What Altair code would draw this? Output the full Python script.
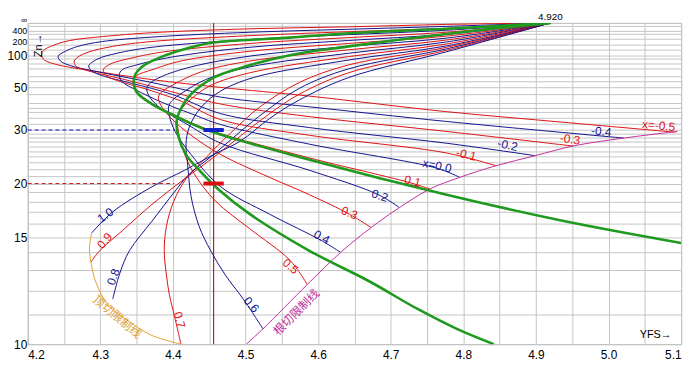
import math
import altair as alt
import pandas as pd

INF = float("inf")

# ---- shift-coefficient curves: (YFS values, zn values) ----
CURVES = {
    "-0.5": ([4.920, 4.777, 4.642, 4.506, 4.371, 4.303, 4.258, 4.235, 4.222, 4.219, 4.223, 4.242, 4.289, 4.371, 4.466, 4.588, 4.777, 4.940, 5.092],
             [INF, 2193, 822, 548, 329, 235, 183, 143, 117.5, 99.7, 86.6, 76.5, 67.1, 56.7, 49.8, 43.9, 36.2, 32.3, 29.4]),
    "-0.4": ([4.920, 4.777, 4.642, 4.506, 4.371, 4.303, 4.269, 4.252, 4.242, 4.245, 4.260, 4.303, 4.371, 4.466, 4.588, 4.777, 5.021],
             [INF, 940, 506, 346, 227, 173, 137, 113.4, 96.8, 84.4, 74.8, 64.5, 53.9, 43.3, 38.3, 32.6, 27.9]),
    "-0.3": ([4.920, 4.777, 4.642, 4.506, 4.371, 4.317, 4.283, 4.269, 4.264, 4.266, 4.283, 4.317, 4.371, 4.466, 4.588, 4.777, 4.951],
             [INF, 598, 366, 253, 173, 137, 109.7, 94, 84.4, 74.8, 67.1, 59.8, 50.6, 39.6, 34.3, 29.6, 26.1]),
    "-0.2": ([4.920, 4.777, 4.642, 4.506, 4.371, 4.323, 4.296, 4.284, 4.288, 4.303, 4.344, 4.398, 4.466, 4.588, 4.777, 4.899],
             [INF, 439, 274, 194, 132, 106, 88.9, 74.8, 67.1, 60.9, 53.1, 45.1, 35.4, 30.7, 26.7, 24.2]),
    "-0.1": ([4.920, 4.777, 4.642, 4.506, 4.384, 4.337, 4.314, 4.304, 4.308, 4.323, 4.364, 4.411, 4.466, 4.588, 4.777, 4.845],
             [INF, 346, 219, 156.7, 109.7, 88.9, 78.3, 68.5, 60.9, 55.8, 48.4, 41.1, 33.2, 28.6, 24.7, 22.5]),
    "0.0": ([4.920, 4.777, 4.642, 4.506, 4.398, 4.350, 4.330, 4.326, 4.330, 4.350, 4.384, 4.425, 4.466, 4.588, 4.764, 4.795],
            [INF, 286, 183, 132, 94, 76.5, 68.5, 62.1, 54.8, 47.7, 40.6, 35.4, 31.6, 26.5, 22.1, 20.8]),
    "0.1": ([4.920, 4.777, 4.642, 4.506, 4.411, 4.371, 4.350, 4.345, 4.348, 4.364, 4.398, 4.452, 4.588, 4.723, 4.754],
            [INF, 244, 156.7, 113.4, 84.4, 68.5, 60.9, 54.8, 48.4, 41.7, 35.4, 29.9, 23.8, 20.2, 19.35]),
    "0.2": ([4.920, 4.777, 4.642, 4.506, 4.425, 4.384, 4.368, 4.364, 4.368, 4.384, 4.418, 4.466, 4.588, 4.683, 4.712],
            [INF, 212, 137, 96.8, 73.1, 59.8, 53.1, 48.4, 43.3, 37.4, 31.9, 26.7, 21.8, 18.7, 17.4]),
    "0.3": ([4.920, 4.777, 4.642, 4.506, 4.439, 4.401, 4.384, 4.380, 4.383, 4.398, 4.425, 4.466, 4.533, 4.588, 4.643, 4.673],
            [INF, 188, 119.6, 84.4, 65.8, 52.2, 46.3, 43.3, 39.2, 33.6, 28.6, 24.4, 20.8, 18.7, 16.8, 15.7]),
    "0.4": ([4.920, 4.777, 4.642, 4.506, 4.445, 4.414, 4.398, 4.394, 4.395, 4.403, 4.425, 4.466, 4.533, 4.605, 4.631],
            [INF, 169, 106, 73.1, 56.7, 46.3, 41.1, 38.3, 34.6, 29.6, 24.4, 19.6, 16.8, 14.75, 14.0]),
    "0.5": ([4.920, 4.777, 4.642, 4.506, 4.452, 4.425, 4.410, 4.406, 4.407, 4.413, 4.428, 4.459, 4.506, 4.561, 4.585],
            [INF, 153, 95.4, 64.5, 51.4, 42.2, 36.6, 33.6, 30.2, 25.7, 21.5, 18.0, 15.6, 13.54, 12.28]),
    "0.6": ([4.920, 4.777, 4.642, 4.506, 4.459, 4.434, 4.422, 4.418, 4.420, 4.425, 4.436, 4.452, 4.472, 4.497, 4.524],
            [INF, 140, 86.6, 57.7, 45.1, 36.2, 30.5, 26.7, 23.0, 18.5, 15.8, 14.1, 12.75, 11.63, 10.5]),
    "0.7": ([4.920, 4.777, 4.642, 4.574, 4.520, 4.479, 4.445, 4.418, 4.401, 4.391, 4.388, 4.391, 4.395, 4.402, 4.411],
            [INF, 132, 76.5, 53.9, 38.3, 29.1, 23.8, 20.6, 18.0, 15.8, 14.1, 12.75, 11.83, 10.97, 10.0]),
    "0.8": ([4.920, 4.777, 4.642, 4.574, 4.527, 4.493, 4.456, 4.421, 4.402, 4.371, 4.340, 4.327, 4.317],
            [INF, 124, 70, 49.1, 36.2, 29.6, 24.4, 21.1, 19.0, 16.2, 14.1, 12.85, 11.63]),
    "0.9": ([4.920, 4.777, 4.642, 4.574, 4.533, 4.493, 4.455, 4.416, 4.371, 4.330, 4.299, 4.287],
            [INF, 117.5, 64.5, 45.1, 35.4, 28.4, 23.8, 20.6, 17.7, 15.45, 14.1, 13.43]),
    "1.0": ([4.920, 4.777, 4.642, 4.574, 4.533, 4.493, 4.456, 4.416, 4.371, 4.317, 4.288],
            [INF, 111.5, 58.8, 41.7, 33.6, 27.2, 24.4, 21.8, 19.6, 17.0, 15.3]),
}

GREEN_A_YFS = [4.920, 4.777, 4.642, 4.561, 4.456, 4.425, 4.380, 4.357, 4.348, 4.346, 4.350, 4.371, 4.405, 4.448, 4.588, 4.777, 4.940, 5.100]
GREEN_A_ZN = [INF, 548, 313, 219, 164.5, 132, 91.4, 73.1, 62.1, 54.8, 46.3, 39.6, 34.3, 29.9, 23.5, 18.7, 16.2, 14.6]
GREEN_B_YFS = [4.920, 4.791, 4.642, 4.561, 4.493, 4.456, 4.425, 4.409, 4.405, 4.407, 4.418, 4.439, 4.462, 4.506, 4.588, 4.669, 4.737, 4.791, 4.842]
GREEN_B_ZN = [INF, 329, 137, 99.7, 71.5, 58.8, 45.1, 36.2, 32.6, 28.6, 24.4, 21.5, 19.35, 16.8, 14.1, 12.46, 11.23, 10.5, 10.0]

UNDERCUT_YFS = [4.501, 4.524, 4.585, 4.631, 4.673, 4.712, 4.754, 4.795, 4.845, 4.899, 4.951, 5.021, 5.095]
UNDERCUT_ZN = [10.0, 10.5, 12.28, 14.0, 15.7, 17.4, 19.35, 20.8, 22.5, 24.2, 26.1, 27.9, 29.6]
TIP_YFS = [4.288, 4.285, 4.287, 4.294, 4.312, 4.340, 4.371, 4.411]
TIP_ZN = [15.3, 14.3, 13.43, 12.37, 11.34, 10.75, 10.28, 10.0]

REF_YFS = 4.456
Z_BLUE, Z_RED = 30, 20
DASH_END = 4.402
BAR_FROM, BAR_TO = 4.442, 4.470

# curve labels: text, YFS, zn, angle, colour key
LABELS = [
    ("x=-0.5", 5.069, 31.3, 5, "r"), ("-0.4", 4.990, 29.6, 5, "b"), ("-0.3", 4.947, 27.6, 8, "r"),
    ("-0.2", 4.861, 26.3, 12, "b"), ("-0.1", 4.804, 24.4, 14, "r"), ("x=0.0", 4.764, 22.5, 12, "b"),
    ("0.1", 4.730, 20.3, 14, "r"), ("0.2", 4.685, 18.6, 18, "b"), ("0.3", 4.643, 16.9, 22, "r"),
    ("0.4", 4.605, 15.0, 28, "b"), ("0.5", 4.562, 13.2, 40, "r"), ("0.6", 4.508, 11.4, 48, "b"),
    ("0.7", 4.409, 10.82, 75, "r"), ("0.8", 4.318, 12.65, 290, "b"), ("0.9", 4.306, 14.75, 310, "r"),
    ("1.0", 4.307, 16.7, 325, "b"),
]
CJK_LABELS = [("根切限制线", 4.570, 11.1, 315, "#c0309a"), ("顶切限制线", 4.323, 10.93, 40, "#e0a030")]

GRID_ZN = list(range(10, 31)) + [32, 34, 36, 38, 40, 45, 50, 55, 60, 70, 80, 90, 100, 120, 150, 200, 300, 400, 1000, INF]
X_GRID = [round(4.2 + 0.05 * i, 2) for i in range(19)]

RED, BLUE, GREEN = "#dd1111", "#12128e", "#1f9a1f"
COL = {"r": RED, "b": BLUE}


def inv(z):
    return 0.0 if math.isinf(z) else 1.0 / z


rows = []
for k, (name, (yf, zz)) in enumerate(CURVES.items()):
    c = RED if k % 2 == 0 else BLUE
    for i, (a, b) in enumerate(zip(yf, zz)):
        rows.append(dict(curve=name, i=i, yfs=a, u=inv(b), color=c))
for name, yf, zz, c in [("undercut", UNDERCUT_YFS, UNDERCUT_ZN, "#c0309a"), ("tip", TIP_YFS, TIP_ZN, "#e0a030")]:
    for i, (a, b) in enumerate(zip(yf, zz)):
        rows.append(dict(curve=name, i=i, yfs=a, u=inv(b), color=c))
thin_df = pd.DataFrame(rows)

grows = []
for name, yf, zz in [("gA", GREEN_A_YFS, GREEN_A_ZN), ("gB", GREEN_B_YFS, GREEN_B_ZN)]:
    for i, (a, b) in enumerate(zip(yf, zz)):
        grows.append(dict(curve=name, i=i, yfs=a, u=inv(b)))
green_df = pd.DataFrame(grows)

dash_df = pd.DataFrame([
    dict(curve="d30", i=0, yfs=4.2, u=inv(Z_BLUE), color="#1010c0"),
    dict(curve="d30", i=1, yfs=DASH_END, u=inv(Z_BLUE), color="#1010c0"),
    dict(curve="d20", i=0, yfs=4.2, u=inv(Z_RED), color="#d01010"),
    dict(curve="d20", i=1, yfs=DASH_END, u=inv(Z_RED), color="#d01010"),
])
bar_df = pd.DataFrame([
    dict(curve="b30", i=0, yfs=BAR_FROM, u=inv(Z_BLUE), color="#1020c8"),
    dict(curve="b30", i=1, yfs=BAR_TO, u=inv(Z_BLUE), color="#1020c8"),
    dict(curve="b20", i=0, yfs=BAR_FROM, u=inv(Z_RED), color="#d81010"),
    dict(curve="b20", i=1, yfs=BAR_TO, u=inv(Z_RED), color="#d81010"),
])
vline_df = pd.DataFrame([dict(curve="v", i=0, yfs=REF_YFS, u=0.0), dict(curve="v", i=1, yfs=REF_YFS, u=0.1)])

lab_df = pd.DataFrame([dict(t=t, yfs=a, u=inv(z), ang=g, color=COL[c]) for t, a, z, g, c in LABELS])
cjk_df = pd.DataFrame([dict(t=t, yfs=a, u=inv(z), ang=g, color=c) for t, a, z, g, c in CJK_LABELS])
misc_df = pd.DataFrame([
    dict(t="Zn→", yfs=4.216, u=inv(143), ang=270),
    dict(t="YFS→", yfs=5.065, u=inv(10.28), ang=0),
])
top_df = pd.DataFrame([dict(t="4.920", yfs=4.920, u=0.0)])

y_label_expr = ("datum.value < 0.00001 ? '∞' : (indexof([10,15,20,30,50,100,200,400], round(1/datum.value)) >= 0 "
                "? format(round(1/datum.value), 'd') : '')")
x_label_expr = "abs(datum.value*10 - round(datum.value*10)) < 0.01 ? format(datum.value, '.1f') : ''"

XS = alt.Scale(domain=[4.2, 5.1], nice=False, zero=False)
YS = alt.Scale(domain=[0, 0.1], nice=False, zero=False, reverse=True)
XAX = alt.Axis(values=X_GRID, labelExpr=x_label_expr, grid=True, ticks=False, domain=False,
               labelOverlap=False, labelPadding=6, labelFontSize=12, labelFont="Liberation Sans",
               labelColor="#000000", gridColor="#c4c4c4", title=None)
YAX = alt.Axis(values=[inv(z) for z in GRID_ZN], labelExpr=y_label_expr, grid=True, ticks=False, domain=False,
               labelOverlap=False, labelPadding=1,
               labelFontSize={"condition": {"test": "datum.value < 0.006", "value": 9}, "value": 12},
               labelOffset={"condition": [
                   {"test": "datum.value < 0.00001", "value": -3},
                   {"test": "datum.value > 0.004 && datum.value < 0.006", "value": 2.5},
               ], "value": 0},
               labelFont="Liberation Sans",
               labelColor="#000000", gridColor="#c4c4c4", title=None)


def xe():
    return alt.X("yfs:Q", scale=XS, axis=XAX)


def ye():
    return alt.Y("u:Q", scale=YS, axis=YAX)


thin = alt.Chart(thin_df).mark_line(interpolate="catmull-rom", strokeWidth=1, clip=True).encode(
    x=xe(), y=ye(), color=alt.Color("color:N", scale=None), detail="curve:N", order="i:Q")
green = alt.Chart(green_df).mark_line(interpolate="catmull-rom", strokeWidth=2.6, color=GREEN, clip=True).encode(
    x=xe(), y=ye(), detail="curve:N", order="i:Q")
dash = alt.Chart(dash_df).mark_line(strokeWidth=1, strokeDash=[4, 3]).encode(
    x=xe(), y=ye(), color=alt.Color("color:N", scale=None), detail="curve:N", order="i:Q")
bars = alt.Chart(bar_df).mark_line(strokeWidth=4).encode(
    x=xe(), y=ye(), color=alt.Color("color:N", scale=None), detail="curve:N", order="i:Q")
vline = alt.Chart(vline_df).mark_line(strokeWidth=1.2, color="#e01010").encode(
    x=xe(), y=ye(), detail="curve:N", order="i:Q")
labels = alt.Chart(lab_df).mark_text(fontSize=12, font="Liberation Sans").encode(
    x=xe(), y=ye(), text="t:N", angle=alt.Angle("ang:Q", scale=None), color=alt.Color("color:N", scale=None))
cjk = alt.Chart(cjk_df).mark_text(fontSize=12, font="Noto Sans CJK SC").encode(
    x=xe(), y=ye(), text="t:N", angle=alt.Angle("ang:Q", scale=None), color=alt.Color("color:N", scale=None))
misc = alt.Chart(misc_df).mark_text(fontSize=11, font="Liberation Sans", color="#000000").encode(
    x=xe(), y=ye(), text="t:N", angle=alt.Angle("ang:Q", scale=None))
top = alt.Chart(top_df).mark_text(fontSize=10, font="Liberation Sans", color="#000000",
                                  baseline="bottom", dy=-1).encode(
    x=xe(), y=ye(), text="t:N")

chart = alt.layer(vline, thin, green, dash, bars, labels, cjk, misc, top).properties(
    width=661, height=325,
    padding={"left": 20, "top": 13, "right": 10, "bottom": 23},
    autosize=alt.AutoSizeParams(type="none"),
    background="#ffffff",
).configure_view(stroke="#b0b0b0", strokeWidth=1)

chart.save("out.html", embed_options={"renderer": "svg", "actions": False})
